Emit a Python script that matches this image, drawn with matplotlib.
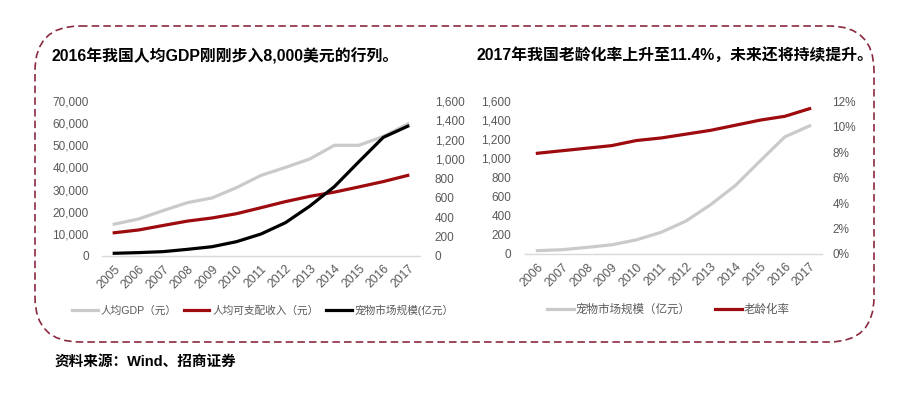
import matplotlib
matplotlib.use("Agg")
import matplotlib.pyplot as plt
from matplotlib.patches import FancyBboxPatch

plt.rcParams['font.family'] = ['Liberation Sans', 'Noto Sans CJK SC']

# data
years_left = ['2005', '2006', '2007', '2008', '2009', '2010', '2011',
              '2012', '2013', '2014', '2015', '2016', '2017']
gdp_per_capita = [14368, 16738, 20505, 24121, 26222, 30876, 36403,
                  40007, 43852, 50000, 50000, 53980, 59660]
disposable_income = [10493, 11759, 13786, 15781, 17175, 19109, 21810,
                     24565, 26955, 28844, 31195, 33616, 36396]
pet_market_left = [28, 35, 45, 69, 96, 148, 227, 344, 516, 716, 973, 1225, 1340]

years_right = ['2006', '2007', '2008', '2009', '2010', '2011',
               '2012', '2013', '2014', '2015', '2016', '2017']
pet_market_right = [35, 45, 69, 96, 148, 227, 344, 516, 716, 973, 1225, 1340]
aging_rate = [7.9, 8.1, 8.3, 8.5, 8.9, 9.1, 9.4, 9.7, 10.1, 10.5, 10.8, 11.4]

title_left = '2016年我国人均GDP刚刚步入8,000美元的行列。'
title_right = '2017年我国老龄化率上升至11.4%，未来还将持续提升。'
source_text = '资料来源：Wind、招商证券'

GRAY = '#CACACA'
RED = '#9E0B0F'
BLACK = '#000000'
TICK = '#595959'
AXIS = '#D9D9D9'
LW = 2.3
W, H = 920, 394


def style_axes(ax, axr):
    for a in (ax, axr):
        for s in a.spines.values():
            s.set_visible(False)
        a.tick_params(length=0, labelsize=8.5, labelcolor=TICK)
    ax.spines['bottom'].set_visible(True)
    ax.spines['bottom'].set_color(AXIS)
    ax.spines['bottom'].set_linewidth(1)


fig = plt.figure(figsize=(W / 100, H / 100), dpi=100)

# dashed rounded frame, drawn in pixel coordinates
bg = fig.add_axes([0, 0, 1, 1], zorder=-1)
bg.set_xlim(0, W)
bg.set_ylim(H, 0)
bg.axis('off')
frame = FancyBboxPatch((35, 26), 839, 316, boxstyle="round,pad=0,rounding_size=45",
                       fill=False, edgecolor='#8A2A3E', linewidth=1.2,
                       linestyle=(0, (4.5, 2.5)))
bg.add_patch(frame)

# left chart
ax1 = fig.add_axes([102 / W, (H - 256) / H, 318 / W, 155 / H])
ax1r = ax1.twinx()
x1 = range(len(years_left))
l_gdp, = ax1.plot(x1, gdp_per_capita, color=GRAY, lw=LW, label='人均GDP（元）')
l_inc, = ax1.plot(x1, disposable_income, color=RED, lw=LW, label='人均可支配收入（元）')
l_pet, = ax1r.plot(x1, pet_market_left, color=BLACK, lw=LW, label='宠物市场规模(亿元）')
ax1.set_xlim(-0.5, len(years_left) - 0.5)
ax1.set_ylim(0, 70000)
ax1r.set_ylim(0, 1600)
ax1.set_yticks(range(0, 70001, 10000))
ax1.set_yticklabels([f'{v:,}' for v in range(0, 70001, 10000)])
ax1r.set_yticks(range(0, 1601, 200))
ax1r.set_yticklabels([f'{v:,}' for v in range(0, 1601, 200)])
ax1.set_xticks(list(x1))
ax1.set_xticklabels(years_left, rotation=45, ha='right', rotation_mode='anchor')
style_axes(ax1, ax1r)
ax1.tick_params(axis='y', pad=9.5)
ax1r.tick_params(axis='y', pad=10.5)
ax1.tick_params(axis='x', pad=5, labelsize=8.8)

# right chart
ax2 = fig.add_axes([525 / W, (H - 254) / H, 297 / W, 153 / H])
ax2r = ax2.twinx()
x2 = range(len(years_right))
r_pet, = ax2.plot(x2, pet_market_right, color=GRAY, lw=LW, label='宠物市场规模（亿元）')
r_age, = ax2r.plot(x2, aging_rate, color=RED, lw=LW, label='老龄化率')
ax2.set_xlim(-0.5, len(years_right) - 0.5)
ax2.set_ylim(0, 1600)
ax2r.set_ylim(0, 12)
ax2.set_yticks(range(0, 1601, 200))
ax2.set_yticklabels([f'{v:,}' for v in range(0, 1601, 200)])
ax2r.set_yticks(range(0, 13, 2))
ax2r.set_yticklabels([f'{v}%' for v in range(0, 13, 2)])
ax2.set_xticks(list(x2))
ax2.set_xticklabels(years_right, rotation=45, ha='right', rotation_mode='anchor')
style_axes(ax2, ax2r)
ax2.tick_params(axis='y', pad=10)
ax2r.tick_params(axis='y', pad=7.5)
ax2.tick_params(axis='x', pad=5, labelsize=8.8)

# legends
fig.legend(handles=[l_gdp, l_inc, l_pet], loc='center left',
           bbox_to_anchor=(72 / W, 1 - 310 / H), ncol=3, frameon=False,
           fontsize=7.7, handlelength=2.4, handletextpad=0.3,
           columnspacing=0.65, borderpad=0, borderaxespad=0,
           labelcolor=TICK)
fig.legend(handles=[r_pet, r_age], loc='center left',
           bbox_to_anchor=(547 / W, 1 - 310 / H), ncol=2, frameon=False,
           fontsize=8.3, handlelength=2.3, handletextpad=0.2,
           columnspacing=2.1, borderpad=0, borderaxespad=0,
           labelcolor=TICK)

# titles and source
fig.text(52 / W, 1 - 56 / H, title_left, fontsize=11.4, fontweight='bold', va='center')
fig.text(477 / W, 1 - 56 / H, title_right, fontsize=11.4, fontweight='bold', va='center')
fig.text(55 / W, 1 - 362 / H, source_text, fontsize=10.5, fontweight='bold', va='center')

fig.savefig('out.png', dpi=100)
